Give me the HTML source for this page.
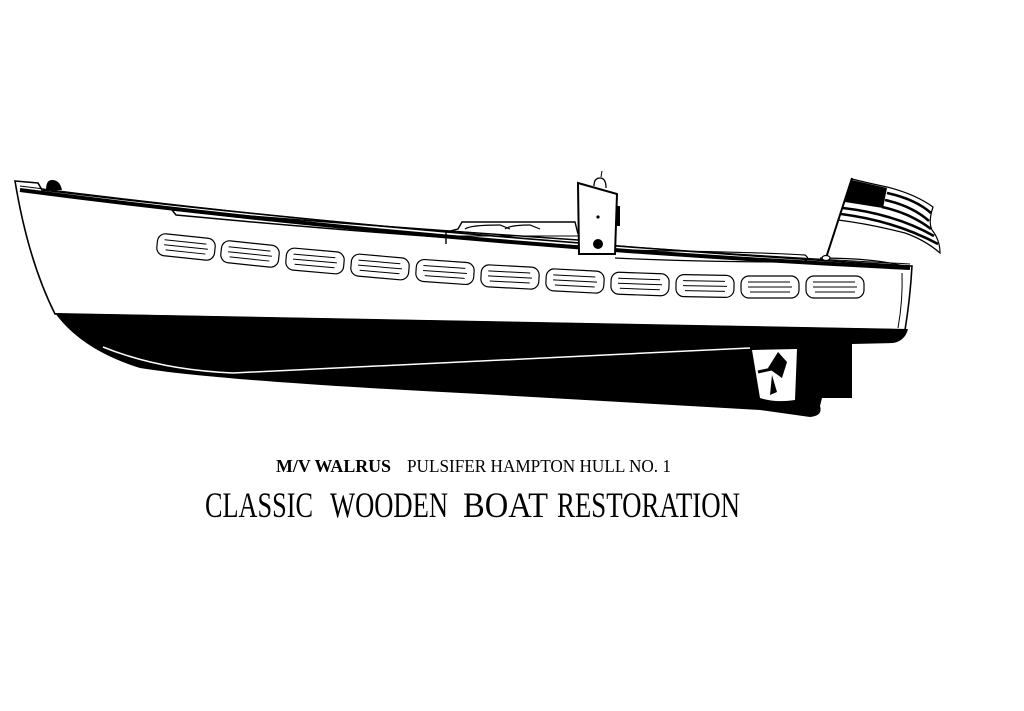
<!DOCTYPE html>
<html><head><meta charset="utf-8"><style>
html,body{margin:0;padding:0;background:#fff;}
svg{display:block;}
</style></head><body>
<svg width="1024" height="711" viewBox="0 0 1024 711" xmlns="http://www.w3.org/2000/svg">
<rect width="1024" height="711" fill="#fff"/>
<path d="M15,181 L38,183 L42,190 Q440,238 912,266 Q910,300 905,330 L55,314 Q28,260 15,181 Z" fill="#fff" stroke="#000" stroke-width="1.6"/>
<path d="M46,190 Q46,180 52,180 Q60,180 62,190 Z" fill="#000"/>
<path d="M55,313 L908,329 Q905,341 893,343 L852,344 L852,398 L822,398 L820,406 Q823,416 810,417 L760,410 L480,394 Q220,381 140,368 Q82,350 55,313 Z" fill="#000"/>
<path d="M752,350 L797,349 L795,400 Q775,403 760,398 Z" fill="#fff"/>
<path d="M768,368 L778,352 L787,362 L782,378 Z" fill="#000"/>
<path d="M758,372 L785,366" stroke="#000" stroke-width="3"/>
<path d="M772,375 L777,392 L770,395 Z" fill="#000"/>
<path d="M103,347 Q160,370 233,373 Q480,360 750,348" fill="none" stroke="#fff" stroke-width="1.5"/>
<path d="M20,190 Q440,245 910,268" fill="none" stroke="#000" stroke-width="4"/>
<path d="M20,186 Q440,240 910,264" fill="none" stroke="#000" stroke-width="1"/>
<path d="M172,210 L176,215 Q400,236 578,246" fill="none" stroke="#000" stroke-width="1.5"/>
<path d="M172,210 Q400,228 578,240" fill="none" stroke="#000" stroke-width="1.5"/>
<path d="M615,250 Q760,252 805,255 Q812,260 800,262 Q700,262 615,258" fill="none" stroke="#000" stroke-width="1.2"/>
<path d="M820,258 Q880,258 910,268" fill="none" stroke="#000" stroke-width="1.2"/>
<path d="M446,244 L446,232 L458,229 L462,222 L575,222 L578,234" fill="none" stroke="#000" stroke-width="1.4"/>
<path d="M465,229 Q470,225 500,225 Q505,227 510,229 M505,229 Q510,225 530,225 Q535,227 540,229" fill="none" stroke="#000" stroke-width="1.2"/>
<path d="M446,236 L578,236" stroke="#000" stroke-width="1"/>
<path d="M579,254 L578,183 L617,194 L615,254 Z" fill="#fff" stroke="#000" stroke-width="2"/>
<path d="M594,186 Q594,178 600,178 Q606,178 606,188" fill="#fff" stroke="#000" stroke-width="1.3"/>
<line x1="601" y1="177" x2="602" y2="171" stroke="#000" stroke-width="1"/>
<circle cx="598" cy="217" r="1.6" fill="#000"/>
<circle cx="598" cy="244" r="5" fill="#000"/>
<rect x="617" y="206" width="3" height="20" fill="#000"/>
<g fill="#fff" stroke="#000" stroke-width="1.2">
<g transform="translate(186,247) rotate(6)"><rect x="-29" y="-11" width="58" height="22" rx="8"/><path d="M-22,-5 H20 M-22,0 H22 M-20,5 H20" stroke-width="1"/></g>
<g transform="translate(250,254) rotate(6)"><rect x="-29" y="-11" width="58" height="22" rx="8"/><path d="M-22,-5 H20 M-22,0 H22 M-20,5 H20" stroke-width="1"/></g>
<g transform="translate(315,261) rotate(5)"><rect x="-29" y="-11" width="58" height="22" rx="8"/><path d="M-22,-5 H20 M-22,0 H22 M-20,5 H20" stroke-width="1"/></g>
<g transform="translate(380,267) rotate(5)"><rect x="-29" y="-11" width="58" height="22" rx="8"/><path d="M-22,-5 H20 M-22,0 H22 M-20,5 H20" stroke-width="1"/></g>
<g transform="translate(445,272) rotate(4)"><rect x="-29" y="-11" width="58" height="22" rx="8"/><path d="M-22,-5 H20 M-22,0 H22 M-20,5 H20" stroke-width="1"/></g>
<g transform="translate(510,277) rotate(3)"><rect x="-29" y="-11" width="58" height="22" rx="8"/><path d="M-22,-5 H20 M-22,0 H22 M-20,5 H20" stroke-width="1"/></g>
<g transform="translate(575,281) rotate(3)"><rect x="-29" y="-11" width="58" height="22" rx="8"/><path d="M-22,-5 H20 M-22,0 H22 M-20,5 H20" stroke-width="1"/></g>
<g transform="translate(640,284) rotate(2)"><rect x="-29" y="-11" width="58" height="22" rx="8"/><path d="M-22,-5 H20 M-22,0 H22 M-20,5 H20" stroke-width="1"/></g>
<g transform="translate(705,286) rotate(1)"><rect x="-29" y="-11" width="58" height="22" rx="8"/><path d="M-22,-5 H20 M-22,0 H22 M-20,5 H20" stroke-width="1"/></g>
<g transform="translate(770,287)"><rect x="-29" y="-11" width="58" height="22" rx="8"/><path d="M-22,-5 H20 M-22,0 H22 M-20,5 H20" stroke-width="1"/></g>
<g transform="translate(835,287)"><rect x="-29" y="-11" width="58" height="22" rx="8"/><path d="M-22,-5 H20 M-22,0 H22 M-20,5 H20" stroke-width="1"/></g>
</g>
<path d="M902,273 Q903,300 898,328" fill="none" stroke="#000" stroke-width="1"/>
<path d="M852,179 Q868,183 887,187 Q915,194 933,207 Q928,222 932,230 Q940,240 940,253 Q925,240 905,233 Q870,224 838,220 Z" fill="#fff" stroke="#000" stroke-width="1.2"/>
<path d="M852,180 L887,188 L883,208 L845,202 Z" fill="#000"/>
<g fill="none" stroke="#000" stroke-width="2.6">
<path d="M887,193 Q915,199 931,213"/>
<path d="M885,200 Q912,206 929,221"/>
<path d="M882,207 Q910,213 931,229"/>
<path d="M843,208 Q895,214 934,236"/>
<path d="M841,214 Q895,221 938,244"/>
</g>
<line x1="826" y1="258" x2="852" y2="178" stroke="#000" stroke-width="2"/>
<ellipse cx="826" cy="258" rx="4" ry="2.5" fill="#fff" stroke="#000" stroke-width="1.2"/>
<text x="276" y="472" font-family="Liberation Serif, serif" font-size="18" font-weight="bold" textLength="115" lengthAdjust="spacingAndGlyphs">M/V WALRUS</text>
<text x="407" y="472" font-family="Liberation Serif, serif" font-size="18" textLength="264" lengthAdjust="spacingAndGlyphs">PULSIFER HAMPTON HULL NO. 1</text>
<g font-family="Liberation Serif, serif" font-size="36">
<text x="205" y="517" textLength="108" lengthAdjust="spacingAndGlyphs">CLASSIC</text>
<text x="330" y="517" textLength="118" lengthAdjust="spacingAndGlyphs">WOODEN</text>
<text x="463" y="517" textLength="85" lengthAdjust="spacingAndGlyphs">BOAT</text>
<text x="557" y="517" textLength="183" lengthAdjust="spacingAndGlyphs">RESTORATION</text>
</g>
</svg>
</body></html>
